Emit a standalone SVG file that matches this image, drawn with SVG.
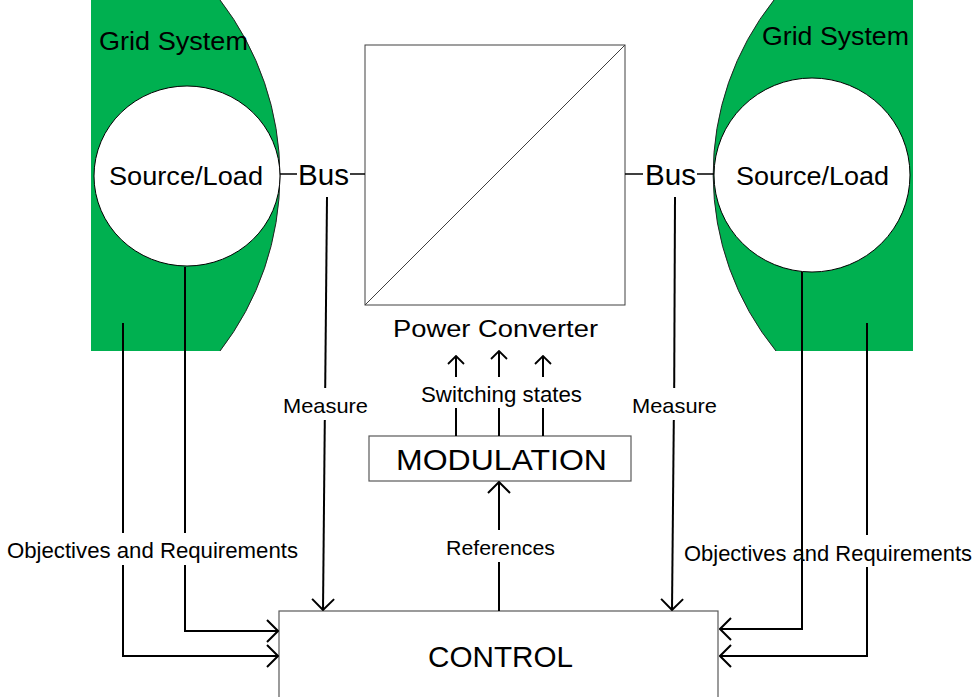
<svg xmlns="http://www.w3.org/2000/svg" width="979" height="697" viewBox="0 0 979 697">
<style>
text{font-family:"Liberation Sans",Arial,sans-serif;fill:#000}
.grid{fill:#00B050;stroke:none}
.edge{fill:none;stroke:#222;stroke-width:1}
.circ{fill:#fff;stroke:#000;stroke-width:1}
.box{fill:#fff;stroke:#595959;stroke-width:1.2}
.c{fill:none;stroke:#000;stroke-width:2}
.bus{fill:none;stroke:#000;stroke-width:1.5}
</style>
<defs>
<marker id="arr" markerUnits="userSpaceOnUse" viewBox="0 0 13 24" refX="12" refY="12" markerWidth="13" markerHeight="24" orient="auto">
<path d="M1,1 L12,12 L1,23" fill="none" stroke="#000" stroke-width="2"/>
</marker>
<marker id="arrS" markerUnits="userSpaceOnUse" viewBox="0 0 10 18" refX="9" refY="9" markerWidth="10" markerHeight="18" orient="auto">
<path d="M1,1 L9,9 L1,17" fill="none" stroke="#000" stroke-width="1.8"/>
</marker>
</defs>
<rect width="979" height="697" fill="#fff"/>

<g id="grid-left">
<path class="grid" d="M91,0 H220 A287,287 0 0 1 220,351 H91 Z"/>
<path class="edge" d="M220,0 A287,287 0 0 1 220,351"/>
<text x="99" y="50" font-size="25" textLength="149" lengthAdjust="spacingAndGlyphs">Grid System</text>
</g>
<g id="source-left">
<ellipse class="circ" cx="187" cy="176" rx="93" ry="90"/>
<text x="109" y="185" font-size="25" textLength="154" lengthAdjust="spacingAndGlyphs">Source/Load</text>
</g>
<g id="grid-right">
<path class="grid" d="M774,0 A280,280 0 0 0 776,351 H913 V0 Z"/>
<path class="edge" d="M774,0 A280,280 0 0 0 776,351"/>
<text x="762" y="45" font-size="25" textLength="147" lengthAdjust="spacingAndGlyphs">Grid System</text>
</g>
<g id="source-right">
<ellipse class="circ" cx="812" cy="175" rx="98" ry="97"/>
<text x="736" y="185" font-size="25" textLength="153" lengthAdjust="spacingAndGlyphs">Source/Load</text>
</g>
<g id="bus-left">
<text x="298" y="185" font-size="30" textLength="51" lengthAdjust="spacingAndGlyphs">Bus</text>
</g>
<g id="bus-right">
<text x="645" y="185" font-size="30" textLength="51" lengthAdjust="spacingAndGlyphs">Bus</text>
</g>
<g id="power-converter">
<rect x="365" y="45" width="260" height="260" fill="#fff" stroke="#404040" stroke-width="1"/>
<line x1="365" y1="305" x2="625" y2="45" stroke="#404040" stroke-width="1"/>
<text x="393" y="337" font-size="24" textLength="205" lengthAdjust="spacingAndGlyphs">Power Converter</text>
</g>
<g id="modulation">
<rect class="box" x="369" y="436" width="262" height="45"/>
<text x="396" y="470" font-size="30" textLength="211" lengthAdjust="spacingAndGlyphs">MODULATION</text>
</g>
<g id="control">
<rect class="box" x="279" y="611" width="439" height="100"/>
<text x="428" y="667" font-size="30" textLength="145" lengthAdjust="spacingAndGlyphs">CONTROL</text>
</g>

<g id="connectors">
<path class="bus" d="M280,174 H297 M350,174 H365 M625,174 H643 M697,174 H714"/>
<path class="c" d="M123,323 V533 M185,267 V533"/>
<path class="c" d="M123,565 V656 H278" marker-end="url(#arr)"/>
<path class="c" d="M185,565 V631 H278" marker-end="url(#arr)"/>
<path class="c" d="M327,197 L325.2,388"/>
<path class="c" d="M324.8,420 L323,610" marker-end="url(#arr)"/>
<path class="c" d="M675,197 L674.2,388"/>
<path class="c" d="M673.8,420 L672,610" marker-end="url(#arr)"/>
<path class="c" d="M802,272 V629 H720" marker-end="url(#arr)"/>
<path class="c" d="M867,323 V535"/>
<path class="c" d="M867,567 V656 H720" marker-end="url(#arr)"/>
<path class="c" d="M499,611 V562"/>
<path class="c" d="M499,530 V482" marker-end="url(#arr)"/>
<path class="c" d="M456,436 V408 M499,436 V408 M543,436 V408"/>
<path class="c" d="M456,377 V356" marker-end="url(#arrS)"/>
<path class="c" d="M499,377 V351" marker-end="url(#arrS)"/>
<path class="c" d="M543,377 V356" marker-end="url(#arrS)"/>
</g>

<g id="labels">
<text x="421" y="402" font-size="22" textLength="161" lengthAdjust="spacingAndGlyphs">Switching states</text>
<text x="283" y="413" font-size="21" textLength="85" lengthAdjust="spacingAndGlyphs">Measure</text>
<text x="632" y="413" font-size="21" textLength="85" lengthAdjust="spacingAndGlyphs">Measure</text>
<text x="7" y="558" font-size="22" textLength="291" lengthAdjust="spacingAndGlyphs">Objectives and Requirements</text>
<text x="684" y="561" font-size="21.8" textLength="288" lengthAdjust="spacingAndGlyphs">Objectives and Requirements</text>
<text x="446" y="555" font-size="21" textLength="109" lengthAdjust="spacingAndGlyphs">References</text>
</g>
</svg>
